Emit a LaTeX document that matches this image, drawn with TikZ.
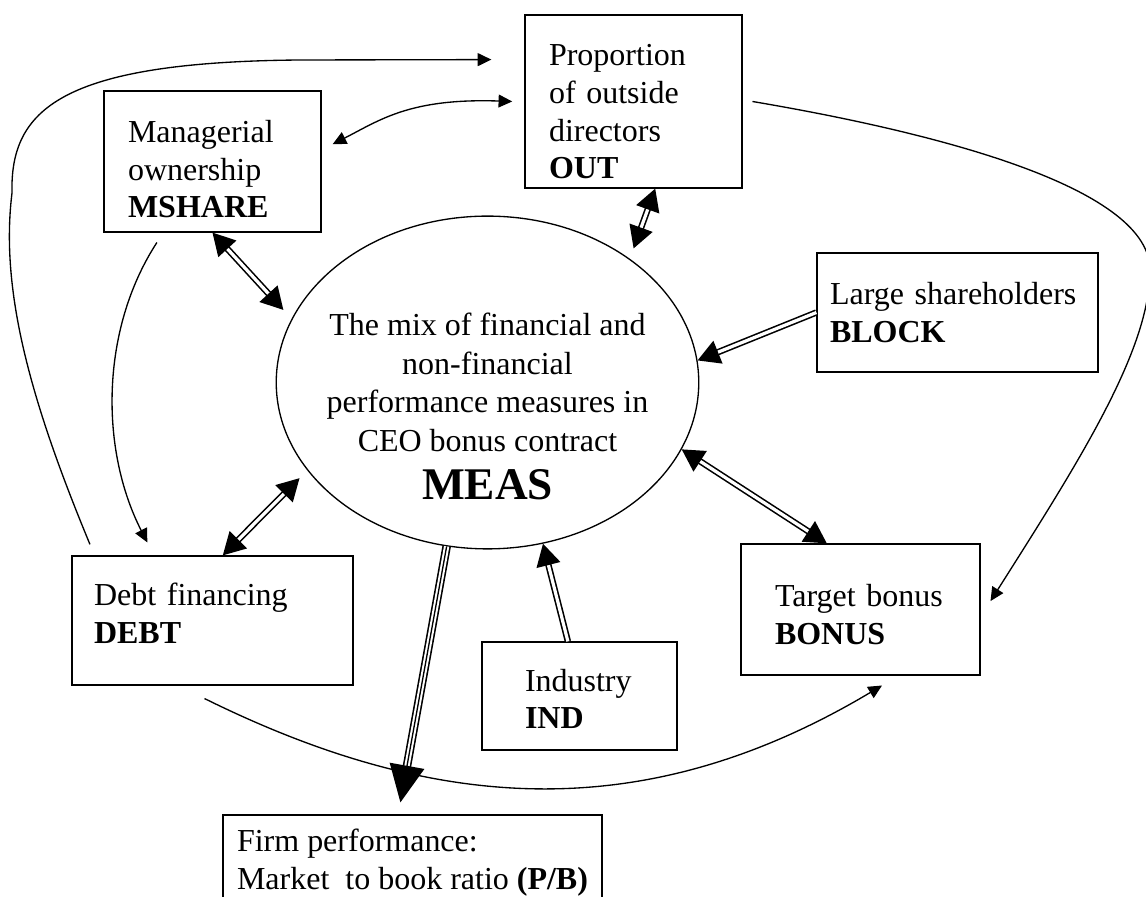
\documentclass[tikz,border=0pt]{standalone}
\usepackage{fontspec}
\setmainfont{Liberation Serif}
\usetikzlibrary{shapes.geometric,arrows.meta}

\begin{document}
\begin{tikzpicture}
          [x=0.01318cm,y=-0.01318cm,line width=0.5pt,
           every node/.style={font=\fontsize{12}{14.1}\selectfont, line width=0.5pt},
           box/.style={draw, rectangle, align=left, inner ysep=0pt},
           dbl/.style={double, double distance=1.2pt, line width=0.6pt},
           >={Triangle[length=0.29cm,width=0.32cm]},
           thintip/.style={line width=0.5pt, -{Triangle[length=0.18cm,width=0.17cm]}},
           thintips/.style={line width=0.5pt, {Triangle[length=0.18cm,width=0.17cm]}-{Triangle[length=0.18cm,width=0.17cm]}}]
        \useasboundingbox (0,0) rectangle (1146,897);

        \node[box, minimum width=2.860cm, minimum height=1.858cm, inner xsep=0.316cm, text width=2.227cm, text height=14.2pt] (mshare) at (212.5,161.5) {Managerial\\ownership\\\textbf{MSHARE}};
        \node[box, minimum width=2.860cm, minimum height=2.280cm, inner xsep=0.316cm, text width=2.227cm, text height=15.7pt] (out) at (633.5,101.5) {Proportion\\of outside\\directors\\\textbf{OUT}};
        \node[box, minimum width=3.704cm, minimum height=1.568cm, inner xsep=0.171cm, text width=3.361cm] (block) at (957.5,312.5) {Large shareholders\\\textbf{BLOCK}};
        \node[box, minimum width=3.704cm, minimum height=1.700cm, inner xsep=0.290cm, text width=3.124cm, text height=2.95pt] (debt) at (212.5,620.5) {Debt financing\\\textbf{DEBT}};
        \node[box, minimum width=2.570cm, minimum height=1.423cm, inner xsep=0.567cm, text width=1.437cm, text height=10.4pt] (ind) at (579.5,696) {Industry\\\textbf{IND}};
        \node[box, minimum width=3.150cm, minimum height=1.727cm, inner xsep=0.448cm, text width=2.254cm, text height=12pt] (bonus) at (860.5,609.5) {Target bonus\\\textbf{BONUS}};
        \node[box, minimum width=4.995cm, minimum height=1.608cm, text height=12.4pt] (pb) at (412.5,876) {Firm performance:\\Market\ \ to book ratio \textbf{(P/B)}};

        \node[ellipse, draw, minimum width=5.549cm, minimum height=3.677cm, inner xsep=-0.15cm, inner ysep=0pt, align=center, font=\fontsize{12}{14.5}\selectfont] (meas) at (487.5,382.5)
          {\rule{0pt}{26.5pt}The mix of financial and\\non-financial\\performance measures in\\CEO bonus contract\\[3.6pt]{\fontsize{17}{17}\selectfont\bfseries MEAS}};

        \foreach \from/\to/\gap in {mshare.south/meas.162/0.16cm, out.-76/meas.41/0.145cm, debt.81/meas.206/0.145cm, bonus.117/meas.-19/0cm}
          \draw[dbl, <->, shorten >=\gap] (\from) -- (\to);

        \foreach \from/\to in {block.west/meas.6, ind.102/meas.-71}
          \draw[dbl, ->] (\from) -- (\to);

        \draw[dbl, double distance=2pt, -{Triangle[length=0.49cm,width=0.46cm]}, shorten >=0.16cm] (meas.256) -- (pb.103);
        \draw[line width=0.5pt, shorten >=0.5cm] (meas.256) -- (pb.103);

        \draw[thintip] ([yshift=0.145cm]debt.152) .. controls (30,400) and (0,290) .. (12,193)
          .. controls (10,110) and (60,62) .. (300,60) -- ([xshift=-0.435cm]out.159);
        \draw[thintips] ([xshift=0.145cm]mshare.9) .. controls (380,120) and (410,98) .. ([xshift=-0.16cm]out.west);
        \draw[thintip] ([yshift=-0.13cm]mshare.-128) .. controls (100,330) and (100,450) .. ([yshift=0.17cm]debt.135);
        \draw[thintip] ([xshift=0.13cm]out.east) .. controls (950,135) and (1150,190) .. (1150,270)
          .. controls (1150,350) and (1080,460) .. ([xshift=0.13cm]bonus.4);
        \draw[thintip] ([yshift=-0.17cm]debt.-97) .. controls (430,810) and (640,830) .. ([yshift=-0.13cm]bonus.-72);
      \end{tikzpicture}
\end{document}
